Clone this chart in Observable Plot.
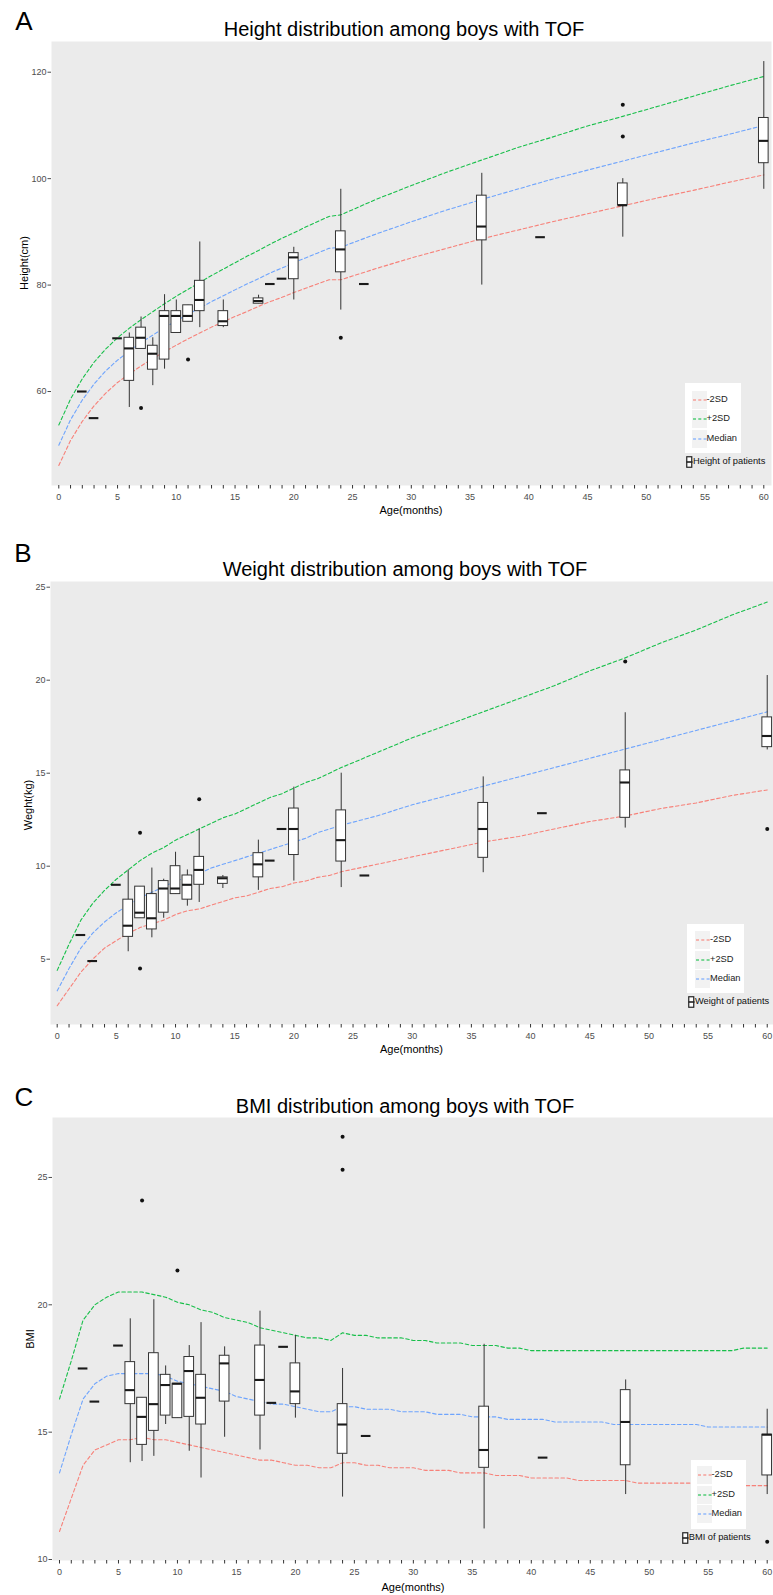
<!DOCTYPE html>
<html><head><meta charset="utf-8">
<script src="https://cdn.jsdelivr.net/npm/d3@7"></script>
<script src="https://cdn.jsdelivr.net/npm/@observablehq/plot@0.6"></script>
<style>
body{margin:0;background:#fff;font-family:"Liberation Sans",Arial,sans-serif;}
#root{position:relative;width:773px;height:1595px;overflow:hidden;background:#fff;}
.t{position:absolute;white-space:nowrap;transform:translate(-50%,-50%);line-height:1;color:#000;}
.l{position:absolute;white-space:nowrap;transform:translate(0,-50%);line-height:1;color:#222;}
.abs{position:absolute;}
</style></head><body><div id="root"></div><script>
// ---------------- DATA ----------------
const patientAges = [2,3,5,6,7,8,9,10,11,12,14,17,18,19,20,24,26,36,41,48,60];

// Height (cm) box statistics
const heightLow    = [60,55,70,57.0,68.0,61.1,64.2,71.0,73.1,72.0,72.0,76.5,80.2,81.2,77.2,75.3,80.2,80.0,89.0,89.0,98.0];
const heightQ1     = [60,55,70,62.0,68.0,64.1,66.0,71.0,73.1,75.1,72.3,76.5,80.2,81.2,81.1,82.4,80.2,88.4,89.0,95.0,102.9];
const heightMid    = [60,55,70,68.1,70.1,67.1,74.2,74.2,74.2,77.2,73.2,77.0,80.2,81.2,85.2,86.7,80.2,91.0,89.0,95.0,107.1];
const heightQ3     = [60,55,70,70.1,72.0,68.6,75.1,75.1,76.2,80.8,75.1,77.5,80.2,81.2,86.0,90.1,80.2,96.8,89.0,99.1,111.4];
const heightHigh   = [60,55,70,71.0,74.0,70.1,78.2,77.2,76.2,88.1,77.2,78.1,80.2,81.2,87.1,98.0,80.2,101.0,89.0,100.0,122.0];
const heightOutAges   = [7,11,24,48,48];
const heightOutValues = [56.9,66.0,70.1,113.9,107.9];

// Weight (kg) box statistics
const weightLow  = [6.3,4.9,9.0,5.4,7.2,6.15,7.2,8.5,7.85,8.05,8.8,8.7,10.3,12.0,9.2,8.85,9.5,9.65,12.85,12.05,16.25];
const weightQ1   = [6.3,4.9,9.0,6.2,7.2,6.6,7.5,8.5,8.2,9.0,9.05,9.4,10.3,12.0,10.6,10.25,9.5,10.45,12.85,12.6,16.4];
const weightMid  = [6.3,4.9,9.0,6.8,7.5,7.2,8.8,8.8,9.0,9.8,9.35,10.1,10.3,12.0,12.0,11.4,9.5,12.0,12.85,14.5,17.0];
const weightQ3   = [6.3,4.9,9.0,8.2,8.9,8.5,9.2,10.0,9.5,10.5,9.4,10.7,10.3,12.0,13.1,13.0,9.5,13.4,12.85,15.15,18.0];
const weightHigh = [6.3,4.9,9.0,9.8,8.9,9.9,9.3,10.75,9.8,12.0,9.5,11.4,10.3,12.0,14.25,15.0,9.5,14.8,12.85,18.25,20.25];
const weightOutAges   = [7,7,12,48,60];
const weightOutValues = [11.8,4.5,13.6,21.0,12.0];

// BMI box statistics
const bmiLow  = [17.5,16.2,18.4,13.8,13.85,14.05,15.3,15.55,14.25,13.2,14.8,14.3,16.15,18.35,15.55,12.45,14.85,11.2,14.0,12.55,12.55];
const bmiQ1   = [17.5,16.2,18.4,16.1,14.5,15.05,15.65,15.55,15.6,15.3,16.2,15.65,16.15,18.35,16.1,14.15,14.85,13.6,14.0,13.7,13.3];
const bmiMid  = [17.5,16.2,18.4,16.65,15.6,16.1,16.85,16.9,17.4,16.35,17.7,17.05,16.15,18.35,16.6,15.3,14.85,14.3,14.0,15.4,14.9];
const bmiQ3   = [17.5,16.2,18.4,17.75,16.35,18.1,17.25,16.9,17.95,17.25,18.0,18.4,16.15,18.35,17.7,16.1,14.85,16.0,14.0,16.65,14.9];
const bmiHigh = [17.5,16.2,18.4,19.45,16.35,20.2,17.6,16.9,18.4,19.3,18.35,19.75,16.15,18.35,18.8,17.5,14.85,18.45,14.0,17.05,15.9];
const bmiOutAges   = [7,10,24,24,60];
const bmiOutValues = [24.1,21.35,26.6,25.3,10.7];

// Reference curves (-2SD, +2SD, Median)
const refAges = [0,1,2,3,4,5,6,7,8,9,10,11,12,13,14,15,16,17,18,19,20,21,22,23,24,27,30,33,36,39,42,45,48,51,54,57,60];
const heightRefMinus2 = [46.1,50.8,54.4,57.3,59.7,61.7,63.3,64.8,66.2,67.5,68.7,69.9,71.0,72.1,73.1,74.1,75.0,76.0,76.9,77.7,78.6,79.4,80.2,81.0,81.0,83.1,85.1,86.9,88.7,90.3,91.9,93.4,94.9,96.4,97.8,99.3,100.7];
const heightRefMedian = [49.9,54.7,58.4,61.4,63.9,65.9,67.6,69.2,70.6,72.0,73.3,74.5,75.7,76.9,78.0,79.1,80.2,81.2,82.3,83.2,84.2,85.1,86.0,86.9,87.1,89.6,91.9,94.1,96.1,98.0,99.9,101.6,103.3,105.0,106.7,108.3,110.0];
const heightRefPlus2  = [53.7,58.6,62.4,65.5,68.0,70.1,71.9,73.5,75.0,76.5,77.9,79.2,80.5,81.8,83.0,84.2,85.4,86.5,87.7,88.8,89.8,90.9,91.9,92.9,93.2,96.1,98.7,101.2,103.5,105.8,107.8,109.9,111.7,113.6,115.5,117.4,119.2];
const weightRefMinus2 = [2.5,3.4,4.3,5.0,5.6,6.0,6.4,6.7,6.9,7.1,7.4,7.6,7.7,7.9,8.1,8.3,8.4,8.6,8.8,8.9,9.1,9.2,9.4,9.5,9.7,10.1,10.5,10.9,11.3,11.6,12.0,12.4,12.7,13.1,13.4,13.8,14.1];
const weightRefMedian = [3.3,4.5,5.6,6.4,7.0,7.5,7.9,8.3,8.6,8.9,9.2,9.4,9.6,9.9,10.1,10.3,10.5,10.7,10.9,11.1,11.3,11.5,11.8,12.0,12.2,12.7,13.3,13.8,14.3,14.8,15.3,15.8,16.3,16.8,17.3,17.8,18.3];
const weightRefPlus2  = [4.4,5.8,7.1,8.0,8.7,9.3,9.8,10.3,10.7,11.0,11.4,11.7,12.0,12.3,12.6,12.8,13.1,13.4,13.7,13.9,14.2,14.5,14.7,15.0,15.3,16.1,16.9,17.6,18.3,19.0,19.7,20.5,21.2,22.0,22.7,23.5,24.2];
const bmiRefAges = d3.range(0, 61);
const bmiRefMinus2 = [11.1,12.4,13.7,14.3,14.5,14.7,14.7,14.8,14.7,14.7,14.6,14.5,14.4,14.3,14.2,14.1,14.0,13.9,13.9,13.8,13.7,13.7,13.6,13.6,13.8,13.8,13.7,13.7,13.6,13.6,13.6,13.5,13.5,13.5,13.4,13.4,13.4,13.3,13.3,13.3,13.2,13.2,13.2,13.2,13.1,13.1,13.1,13.1,13.1,13.0,13.0,13.0,13.0,13.0,13.0,13.0,12.9,12.9,12.9,12.9,12.9];
const bmiRefMedian = [13.4,14.9,16.3,16.9,17.2,17.3,17.3,17.3,17.3,17.2,17.0,16.9,16.8,16.7,16.6,16.4,16.3,16.2,16.1,16.1,16.0,15.9,15.8,15.8,16.0,16.0,15.9,15.9,15.9,15.8,15.8,15.8,15.7,15.7,15.7,15.6,15.6,15.6,15.5,15.5,15.5,15.5,15.4,15.4,15.4,15.4,15.4,15.3,15.3,15.3,15.3,15.3,15.3,15.3,15.3,15.2,15.2,15.2,15.2,15.2,15.2];
const bmiRefPlus2  = [16.3,17.8,19.4,20.0,20.3,20.5,20.5,20.5,20.4,20.3,20.1,20.0,19.8,19.7,19.5,19.4,19.3,19.1,19.0,18.9,18.8,18.7,18.7,18.6,18.9,18.8,18.8,18.7,18.7,18.7,18.6,18.6,18.5,18.5,18.5,18.4,18.4,18.4,18.3,18.3,18.2,18.2,18.2,18.2,18.2,18.2,18.2,18.2,18.2,18.2,18.2,18.2,18.2,18.2,18.2,18.2,18.2,18.2,18.3,18.3,18.3];

const seriesNames  = ["-2SD", "+2SD", "Median"];
const seriesColors = ["#F8766D", "#00BA38", "#619CFF"];
const xTicksMinor = d3.range(0, 61);
const xTicksMajor = d3.range(0, 61, 5);

// ---------------- DRAWING ----------------
const root = document.getElementById("root");
const FONT = "'Liberation Sans', Arial, sans-serif";

function addText(txt, x, y, size, rotate) {
  const d = document.createElement("div");
  d.className = "t";
  d.textContent = txt;
  d.style.left = x + "px"; d.style.top = y + "px"; d.style.fontSize = size + "px";
  if (rotate) d.style.transform = "translate(-50%,-50%) rotate(-90deg)";
  root.appendChild(d);
}

function addLegend(L, patientLabel) {
  const box = document.createElement("div");
  box.className = "abs";
  Object.assign(box.style, {left: L.x + "px", top: L.y + "px", width: L.w + "px", height: L.h + "px", background: "#fff"});
  root.appendChild(box);
  seriesNames.forEach((name, i) => {
    const cy = L.rows[i];
    const key = document.createElementNS("http://www.w3.org/2000/svg", "svg");
    key.setAttribute("width", 15); key.setAttribute("height", 18);
    key.style.position = "absolute"; key.style.left = L.kx + "px"; key.style.top = (cy - 9) + "px";
    key.innerHTML = `<rect x="0" y="0" width="15" height="18" fill="#f2f2f2"/><line x1="1" x2="15" y1="9" y2="9" stroke="${seriesColors[i]}" stroke-width="1.1" stroke-dasharray="3,2.3"/>`;
    root.appendChild(key);
    const t = document.createElement("div");
    t.className = "l"; t.textContent = name;
    t.style.left = (L.kx + 15) + "px"; t.style.top = cy + "px"; t.style.fontSize = "9.3px";
    root.appendChild(t);
  });
  const icon = document.createElementNS("http://www.w3.org/2000/svg", "svg");
  icon.setAttribute("width", 7); icon.setAttribute("height", 12);
  icon.style.position = "absolute"; icon.style.left = L.ix + "px"; icon.style.top = (L.py - 6) + "px";
  icon.innerHTML = `<rect x="0.75" y="0.75" width="5" height="10.5" fill="#fff" stroke="#222" stroke-width="1.2"/><line x1="0.5" x2="6.5" y1="6" y2="6" stroke="#222" stroke-width="1.6"/>`;
  root.appendChild(icon);
  const t = document.createElement("div");
  t.className = "l"; t.textContent = patientLabel;
  t.style.left = (L.ix + 7) + "px"; t.style.top = L.py + "px"; t.style.fontSize = "9.3px"; t.style.color = "#111";
  root.appendChild(t);
}

function panel(cfg) {
  const boxes = patientAges.map((a, i) => ({age: a, lo: cfg.lo[i], q1: cfg.q1[i], mid: cfg.mid[i], q3: cfg.q3[i], hi: cfg.hi[i]}));
  const outs = cfg.outAges.map((a, i) => ({age: a, v: cfg.outValues[i]}));
  const ref = [];
  [cfg.refMinus2, cfg.refPlus2, cfg.refMedian].forEach((arr, s) => {
    arr.forEach((v, i) => ref.push({age: cfg.refAges[i], v, s: seriesNames[s]}));
  });
  const hw = 0.41;
  const svg = Plot.plot({
    width: 773, height: cfg.height,
    marginLeft: cfg.ml, marginRight: cfg.mr, marginTop: 0, marginBottom: cfg.mb,
    style: {background: "transparent", fontFamily: FONT, overflow: "visible"},
    x: {domain: cfg.xDomain, label: null},
    y: {domain: cfg.yDomain, label: null},
    color: {domain: seriesNames, range: seriesColors},
    marks: [
      Plot.frame({fill: "#ebebeb", stroke: "none"}),
      Plot.axisX(xTicksMinor, {tickSize: 3.5, tickFormat: () => "", label: null, color: "#333", strokeWidth: 1}),
      Plot.axisX(xTicksMajor, {tickSize: 0, tickPadding: cfg.xPad, label: null, fontSize: 9, color: "#4d4d4d"}),
      Plot.axisY(cfg.yTicks, {tickSize: 3.5, tickPadding: 1.5, label: null, fontSize: 9, color: "#4d4d4d"}),
      Plot.line(ref, {x: "age", y: "v", z: "s", stroke: "s", strokeWidth: 1.1, strokeOpacity: 0.9, strokeDasharray: "3.5,2.5"}),
      Plot.ruleX(boxes, {x: "age", y1: "lo", y2: "hi", stroke: "#333", strokeWidth: 1}),
      Plot.rect(boxes, {x1: d => d.age - hw, x2: d => d.age + hw, y1: "q1", y2: "q3", fill: "#fff", stroke: "#333", strokeWidth: 1}),
      Plot.ruleY(boxes, {y: "mid", x1: d => d.age - hw, x2: d => d.age + hw, stroke: "#1a1a1a", strokeWidth: 2.1}),
      Plot.dot(outs, {x: "age", y: "v", r: 2, fill: "#111", stroke: "none"})
    ]
  });
  svg.style.position = "absolute";
  svg.style.left = "0px";
  svg.style.top = cfg.top + "px";
  root.appendChild(svg);
}

// Panel A
addText("A", 24, 21, 26);
addText("Height distribution among boys with TOF", 404, 28.5, 20);
panel({top: 41, height: 484, ml: 51, mr: 2, mb: 40, xPad: 8.5,
  xDomain: [-0.621, 60.655], yDomain: [42.34, 125.77], yTicks: [60, 80, 100, 120],
  lo: heightLow, q1: heightQ1, mid: heightMid, q3: heightQ3, hi: heightHigh,
  outAges: heightOutAges, outValues: heightOutValues,
  refAges, refMinus2: heightRefMinus2, refMedian: heightRefMedian, refPlus2: heightRefPlus2});
addText("Age(months)", 411, 510, 11);
addText("Height(cm)", 23.5, 263, 11, true);
addLegend({x: 685, y: 383, w: 56, h: 70, kx: 691.5, rows: [400, 419.3, 439], ix: 686, py: 462}, "Height of patients");

// Panel B
addText("B", 23, 553, 26);
addText("Weight distribution among boys with TOF", 405, 568.5, 20);
panel({top: 581, height: 473, ml: 50, mr: 0, mb: 30, xPad: 8.5,
  xDomain: [-0.566, 60.53], yDomain: [1.489, 25.306], yTicks: [5, 10, 15, 20, 25],
  lo: weightLow, q1: weightQ1, mid: weightMid, q3: weightQ3, hi: weightHigh,
  outAges: weightOutAges, outValues: weightOutValues,
  refAges, refMinus2: weightRefMinus2, refMedian: weightRefMedian, refPlus2: weightRefPlus2});
addText("Age(months)", 411.5, 1048.5, 11);
addText("Weght(kg)", 28, 805, 11, true);
addLegend({x: 687, y: 924, w: 57, h: 69, kx: 695, rows: [940, 959.5, 979.3], ix: 688, py: 1001.7}, "Weight of patients");

// Panel C
addText("C", 24, 1097, 26);
addText("BMI distribution among boys with TOF", 405, 1105.5, 20);
panel({top: 1117, height: 477, ml: 52, mr: 0, mb: 34, xPad: 8.5,
  xDomain: [-0.593, 60.534], yDomain: [9.961, 27.354], yTicks: [10, 15, 20, 25],
  lo: bmiLow, q1: bmiQ1, mid: bmiMid, q3: bmiQ3, hi: bmiHigh,
  outAges: bmiOutAges, outValues: bmiOutValues,
  refAges: bmiRefAges, refMinus2: bmiRefMinus2, refMedian: bmiRefMedian, refPlus2: bmiRefPlus2});
addText("Age(months)", 413, 1587, 11);
addText("BMI", 30, 1339, 11, true);
addLegend({x: 690.5, y: 1459.5, w: 55.5, h: 69, kx: 696.5, rows: [1475.4, 1495, 1514.4], ix: 681.7, py: 1538.4}, "BMI of patients");
</script></body></html>
